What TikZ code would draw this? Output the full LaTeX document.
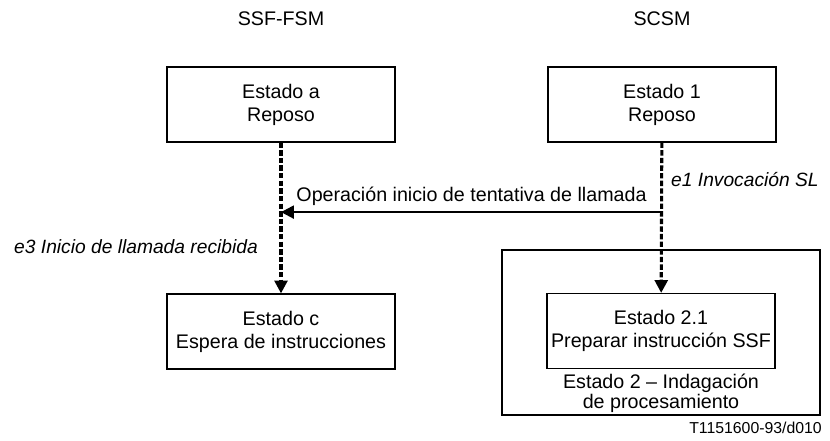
\documentclass[tikz,border=0pt]{standalone}
\usepackage{fontspec}
\setmainfont{Liberation Sans}
\usetikzlibrary{positioning,arrows.meta}

\tikzset{
  state/.style={draw, line width=1pt, minimum width=6.84cm, minimum height=2.25cm,
    align=center, inner sep=0pt},
  trans/.style={line width=2.6pt, dash pattern=on 4.6pt off 1.9pt,
    -{Triangle[length=11pt,width=11pt]}},
  msg/.style={line width=2pt, -{Triangle[length=11pt,width=11pt]}},
  event/.style={font=\fontsize{16.4}{19}\selectfont\itshape, inner sep=0pt},
}

\begin{document}
\begin{tikzpicture}[x=0.03cm, y=-0.03cm, font=\fontsize{16.8}{19.5}\selectfont]
    \useasboundingbox (0,0) rectangle (830,440);
    % machines
    \node (ssf) at (281,19) {SSF-FSM};
    \node (scsm) at (662,19) {SCSM};

    % states
    \node[state] (ea) at (281,104.5) {Estado a\\Reposo};
    \node[state] (e1) at (662,104.5) {Estado 1\\Reposo};
    \node[state] (ec) at (281,331.5) {Estado c\\Espera de instrucciones};
    \node[draw, line width=1pt, minimum width=9.54cm, minimum height=4.95cm]
      (e2) at (661,332.5) {};
    \node[state] (e21) at (661,331) {Estado 2.1\\Preparar instrucción SSF};
    \node[below=4pt of e21, align=center, inner sep=0pt,
      font=\fontsize{16.8}{13.8}\selectfont] (e2lbl)
      {Estado 2 -- Indagación\\de procesamiento};

    % transitions
    \draw[trans] (ea) -- (ec);
    \draw[trans] (e1) -- (e21);
    \path (e1.south) ++(0,69.5) coordinate (inv);
    \coordinate (rec) at (ea.south |- inv);
    \draw[msg] (inv) -- node[above=1pt] (op)
      {Operación inicio de tentativa de llamada} (rec);
    \node[event, anchor=west] (ev1) at (671,180) {e1 Invocación SL};
    \node[event, anchor=east] (ev3) at (258,247) {e3 Inicio de llamada recibida};

    \node[anchor=east, inner sep=0pt, font=\fontsize{13.5}{15}\selectfont]
      (ref) at (822,428) {T1151600-93/d010};
\end{tikzpicture}
\end{document}
